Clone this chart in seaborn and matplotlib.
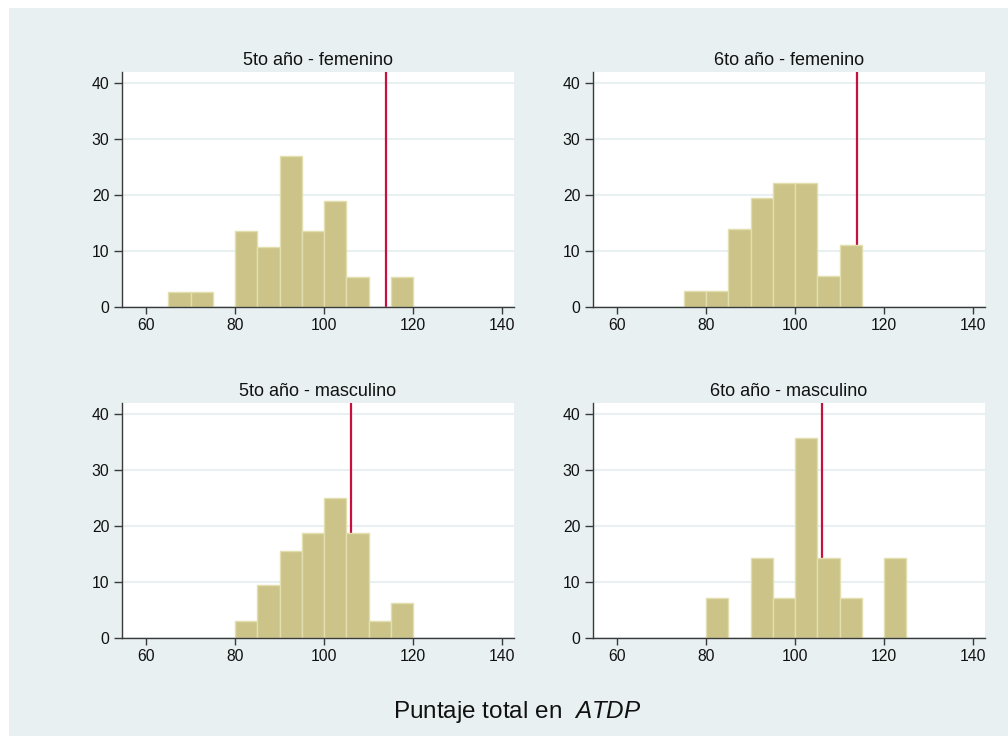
import numpy as np
import pandas as pd
import matplotlib
matplotlib.use("Agg")
import matplotlib.pyplot as plt
import seaborn as sns

# Percent of students per 5-point score bin (bin lower edges)
f5_bins = [65, 70, 80, 85, 90, 95, 100, 105, 115]
f5_pct = [2.7, 2.7, 13.5, 10.8, 27.0, 13.5, 18.9, 5.4, 5.4]

f6_bins = [75, 80, 85, 90, 95, 100, 105, 110]
f6_pct = [2.8, 2.8, 13.9, 19.4, 22.2, 22.2, 5.6, 11.1]

m5_bins = [80, 85, 90, 95, 100, 105, 110, 115]
m5_pct = [3.1, 9.4, 15.6, 18.75, 25.0, 18.75, 3.1, 6.25]

m6_bins = [80, 90, 95, 100, 105, 110, 120]
m6_pct = [7.1, 14.3, 7.1, 35.7, 14.3, 7.1, 14.3]

panel_titles = ["5to año - femenino", "6to año - femenino",
                "5to año - masculino", "6to año - masculino"]
ref_lines = [114, 114, 106, 106]
x_ticks = [60, 80, 100, 120, 140]
y_ticks = [0, 10, 20, 30, 40]

BG = "#e8f0f2"
BAR = "#cbc387"
BAR_EDGE = "#e2deb0"
RED = "#c8103e"
AXIS = "#3a3a3a"

sns.set_style("white")
plt.rcParams["font.family"] = ["Liberation Sans", "DejaVu Sans"]
plt.rcParams["mathtext.fontset"] = "custom"
plt.rcParams["mathtext.rm"] = "Liberation Sans"
plt.rcParams["mathtext.it"] = "Liberation Sans:italic"

fig = plt.figure(figsize=(10.08, 7.36), dpi=100, facecolor="white")
fig.patches.append(plt.Rectangle((9 / 1008, 0), 1, 1 - 8 / 736,
                                 transform=fig.transFigure,
                                 facecolor=BG, edgecolor="none", zorder=-10))

W, H = 1008, 736
boxes = [(122, 72), (593, 72), (122, 403), (593, 403)]
aw, ah = 392, 235

data = [(f5_bins, f5_pct), (f6_bins, f6_pct), (m5_bins, m5_pct), (m6_bins, m6_pct)]

for (bins, pct), title, ref, (lx, ty) in zip(data, panel_titles, ref_lines, boxes):
    ax = fig.add_axes([lx / W, 1 - (ty + ah) / H, aw / W, ah / H])
    ax.set_facecolor("white")
    df = pd.DataFrame({"score": np.array(bins, dtype=float) + 2.5,
                       "pct": np.array(pct, dtype=float)})
    sns.histplot(data=df, x="score", weights="pct", binwidth=5,
                 binrange=(min(bins), max(bins) + 5), stat="count",
                 color=BAR, edgecolor=BAR_EDGE, linewidth=1.0, alpha=1,
                 ax=ax, zorder=2)
    ax.axvline(ref, color=RED, lw=1.6, zorder=1)
    ax.set_xlim(54.6, 142.7)
    ax.set_ylim(0, 42)
    ax.set_xticks(x_ticks)
    ax.set_yticks(y_ticks)
    ax.yaxis.grid(True, color=BG, lw=1.5)
    ax.set_axisbelow(True)
    for s in ["top", "right"]:
        ax.spines[s].set_visible(False)
    for s in ["left", "bottom"]:
        ax.spines[s].set_color(AXIS)
        ax.spines[s].set_linewidth(1.0)
        ax.spines[s].set_zorder(3)
    ax.tick_params(axis="y", direction="out", length=5.8, width=1.0, color=AXIS,
                   labelsize=11.3, pad=3.2, left=True, labelcolor="#111111")
    ax.tick_params(axis="x", direction="out", length=5, width=1.0, color=AXIS,
                   labelsize=11.3, pad=3, bottom=True, labelcolor="#111111")
    ax.set_xlabel("")
    ax.set_ylabel("")
    ax.set_title(title, fontsize=13, pad=5, color="#111111")

fig.text(517 / W, 1 - 712 / H, r"Puntaje total en  $\mathit{ATDP}$",
         ha="center", va="center", fontsize=17.5, color="#111111")

fig.savefig("out.png", dpi=100, facecolor=fig.get_facecolor())
